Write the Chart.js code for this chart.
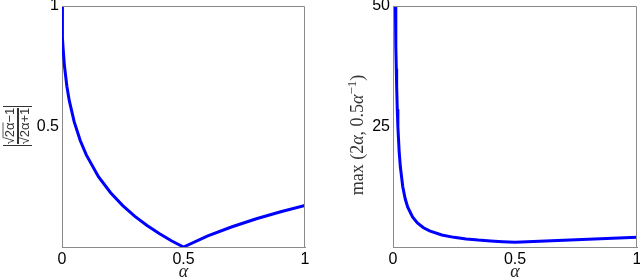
<!DOCTYPE html>
<html>
<head>
<meta charset="utf-8">
<script src="https://cdn.jsdelivr.net/npm/chart.js@4.4.1/dist/chart.umd.min.js"></script>
<style>
  html, body { margin: 0; padding: 0; background: #fff; }
  .wrap { position: absolute; top: 0; width: 320px; height: 280px; }
</style>
</head>
<body>
<div class="wrap" style="left:0"><canvas id="left" width="320" height="280"></canvas></div>
<div class="wrap" style="left:320px"><canvas id="right" width="320" height="280"></canvas></div>
<script>
// values
const alphaLeft = [0, 0.001, 0.0025, 0.005, 0.01, 0.02, 0.03, 0.05, 0.075, 0.1, 0.15, 0.2, 0.25, 0.3, 0.35, 0.4, 0.45, 0.5, 0.6, 0.7, 0.8, 0.9, 1]
const ratioLeft = [1, 0.914, 0.868, 0.818, 0.752, 0.667, 0.607, 0.520, 0.442, 0.382, 0.292, 0.225, 0.172, 0.127, 0.089, 0.056, 0.026, 0, 0.046, 0.084, 0.117, 0.146, 0.172]

const alphaRight = [0.01, 0.011, 0.012, 0.0135, 0.015, 0.0175, 0.02, 0.025, 0.03, 0.04, 0.05, 0.06, 0.08, 0.1, 0.125, 0.15, 0.2, 0.25, 0.3, 0.35, 0.4, 0.45, 0.5, 0.75, 1]
const maxRight = [50, 45.5, 41.7, 37.0, 33.3, 28.6, 25, 20, 16.7, 12.5, 10, 8.33, 6.25, 5, 4, 3.33, 2.5, 2, 1.67, 1.43, 1.25, 1.11, 1, 1.5, 2]

const xTicks = [0, 0.5, 1]
const leftYTicks = [0.5, 1]
const rightYTicks = [25, 50]

const AXIS = '#8a8a8a'
const tickFont = { family: '"Liberation Sans", Arial, sans-serif', size: 16 }

function pts(xs, ys) {
  return xs.map((x, i) => ({ x: x, y: ys[i] }))
}

// top + right edges of the box
const boxPlugin = {
  id: 'box',
  afterDraw(chart) {
    const a = chart.chartArea, ctx = chart.ctx
    ctx.save()
    ctx.strokeStyle = AXIS
    ctx.lineWidth = 1
    ctx.beginPath()
    ctx.moveTo(a.left, a.top + 0.5)
    ctx.lineTo(a.right - 0.5, a.top + 0.5)
    ctx.lineTo(a.right - 0.5, a.bottom)
    ctx.stroke()
    ctx.restore()
  }
}

function alphaTitle(chart) {
  const a = chart.chartArea, ctx = chart.ctx
  ctx.save()
  ctx.fillStyle = '#222'
  ctx.font = 'italic 18px "Liberation Serif", serif'
  ctx.textAlign = 'center'
  ctx.textBaseline = 'alphabetic'
  ctx.fillText('α', (a.left + a.right) / 2, 277)
  ctx.restore()
}

function makeChart(id, xs, ys, yMax, yTicks, yWidth, padRight, drawTitle) {
  return new Chart(document.getElementById(id), {
    type: 'line',
    data: {
      datasets: [{
        data: pts(xs, ys),
        borderColor: '#0000ff',
        borderWidth: 3,
        pointRadius: 0,
        tension: 0,
        fill: false
      }]
    },
    options: {
      responsive: false,
      devicePixelRatio: 1,
      animation: false,
      layout: { padding: { top: 6, right: padRight, left: 0, bottom: 0 } },
      plugins: { legend: { display: false }, tooltip: { enabled: false } },
      scales: {
        x: {
          type: 'linear', min: 0, max: 1,
          afterBuildTicks: s => { s.ticks = xTicks.map(v => ({ value: v })) },
          afterFit: s => { s.height = 33; s.paddingLeft = 0; s.paddingRight = 0 },
          grid: { display: false, drawTicks: false },
          border: { color: AXIS },
          ticks: { font: tickFont, color: '#000', padding: 3, maxRotation: 0,
            callback: v => String(v) }
        },
        y: {
          type: 'linear', min: 0, max: yMax,
          afterBuildTicks: s => { s.ticks = yTicks.map(v => ({ value: v })) },
          afterFit: s => { s.width = yWidth; s.paddingTop = 0; s.paddingBottom = 0 },
          grid: { display: false, drawTicks: false },
          border: { color: AXIS },
          ticks: { font: tickFont, color: '#000', padding: 3,
            callback: v => String(v) }
        }
      }
    },
    plugins: [boxPlugin, {
      id: 'titles',
      afterDraw(chart) { alphaTitle(chart); drawTitle(chart.ctx) }
    }]
  })
}

// |(sqrt(2a)-1)/(sqrt(2a)+1)| stacked as a fraction, rotated
function leftTitle(ctx) {
  ctx.save()
  ctx.translate(17, 126)
  ctx.rotate(-Math.PI / 2)
  ctx.fillStyle = '#333'
  ctx.strokeStyle = '#333'
  ctx.font = '13px "Liberation Sans", sans-serif'
  ctx.textBaseline = 'alphabetic'
  const parts = [['√', '2α', '−1', -3], ['√', '2α', '+1', 12]]
  parts.forEach(p => {
    const w0 = ctx.measureText(p[0]).width
    const w1 = ctx.measureText(p[1]).width
    const w2 = ctx.measureText(p[2]).width
    let x = -(w0 + w1 + w2) / 2
    ctx.fillText(p[0], x, p[3])
    ctx.fillText(p[1], x + w0, p[3])
    ctx.fillText(p[2], x + w0 + w1, p[3])
    ctx.lineWidth = 0.8
    ctx.beginPath()
    ctx.moveTo(x + w0 - 1, p[3] - 11)
    ctx.lineTo(x + w0 + w1, p[3] - 11)
    ctx.stroke()
  })
  ctx.lineWidth = 2
  ctx.beginPath()
  ctx.moveTo(-18, 1)
  ctx.lineTo(18, 1)
  ctx.stroke()
  ctx.lineWidth = 1
  ctx.beginPath()
  ctx.moveTo(-19.5, -14); ctx.lineTo(-19.5, 15)
  ctx.moveTo(19.5, -14); ctx.lineTo(19.5, 15)
  ctx.stroke()
  ctx.restore()
}

// max(2a, 0.5a^-1), rotated
function rightTitle(ctx) {
  ctx.save()
  ctx.translate(37, 135)
  ctx.rotate(-Math.PI / 2)
  ctx.fillStyle = '#333'
  ctx.textBaseline = 'alphabetic'
  const big = '18px "Liberation Serif", serif'
  const ital = 'italic 18px "Liberation Serif", serif'
  const small = '13px "Liberation Serif", serif'
  const seg = [['max (2', big, 0], ['α', ital, 0], [', 0.5', big, 0], ['α', ital, 0], ['−1', small, -7], [')', big, 0]]
  let total = 0
  seg.forEach(s => { ctx.font = s[1]; total += ctx.measureText(s[0]).width })
  let x = -total / 2
  seg.forEach(s => {
    ctx.font = s[1]
    ctx.fillText(s[0], x, 6 + s[2])
    x += ctx.measureText(s[0]).width
  })
  ctx.restore()
}

makeChart('left', alphaLeft, ratioLeft, 1, leftYTicks, 62, 15, leftTitle)
makeChart('right', alphaRight, maxRight, 50, rightYTicks, 73, 3, rightTitle)
</script>
</body>
</html>
